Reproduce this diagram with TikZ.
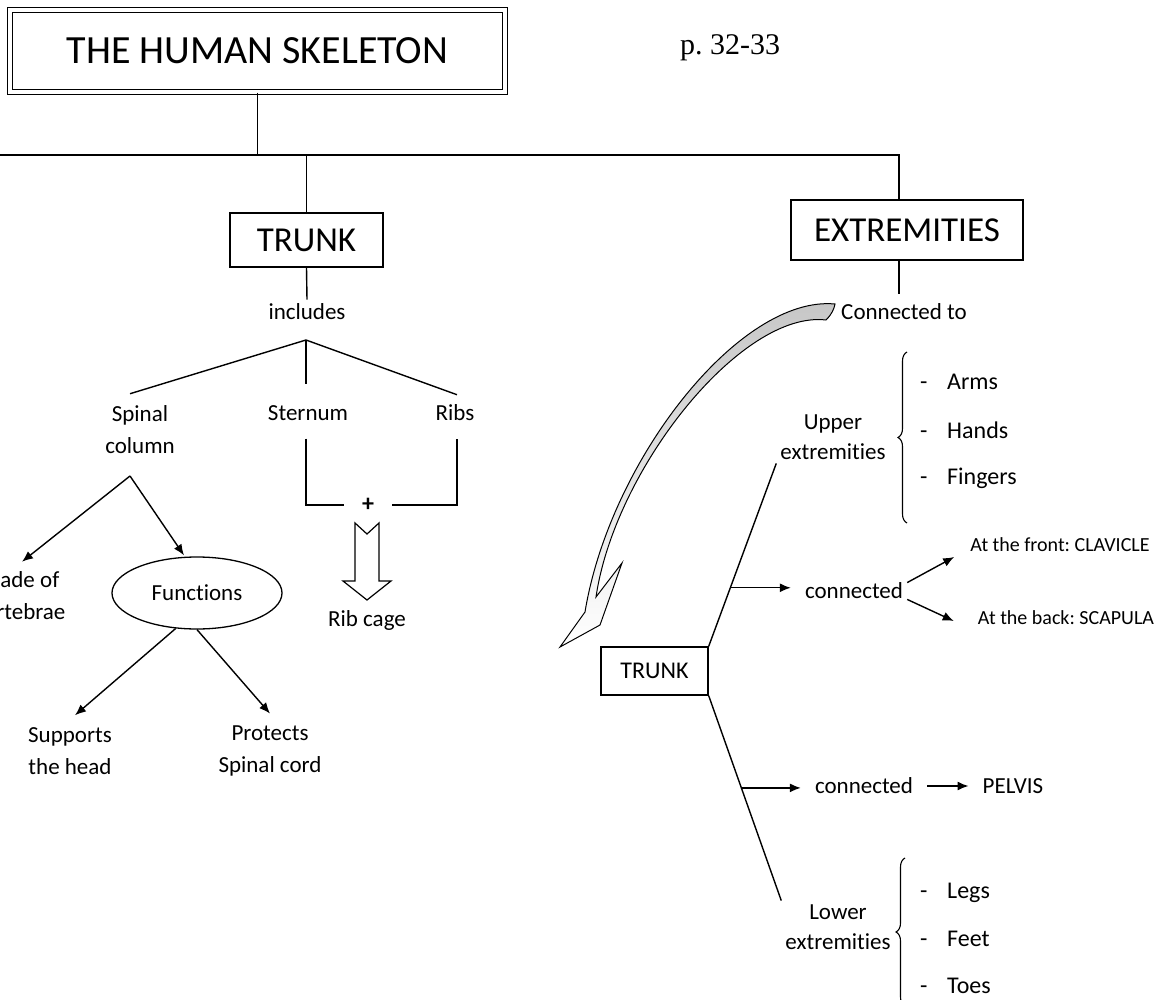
\documentclass[tikz,border=0pt]{standalone}
\usepackage{fontspec}
\setmainfont{Carlito}[Ligatures=NoCommon]
\newfontfamily\timesfont{Liberation Serif}
\frenchspacing
\usetikzlibrary{arrows.meta,calc,decorations.pathreplacing,shapes.geometric}
\tikzset{>={Latex[length=11pt,width=9pt]}}
\tikzset{
    box/.style={rectangle,draw,line width=1.4pt,inner sep=0pt,font=\fontsize{35}{40}\selectfont},
    titlebox/.style={rectangle,draw,double,double distance=3.5pt,line width=1.3pt,inner sep=0pt,minimum width=495pt,minimum height=82pt,font=\fontsize{40}{46}\selectfont},
    txt/.style={rectangle,draw=none,inner sep=4pt,align=center,font=\fontsize{23}{32}\selectfont},
    tighttxt/.style={txt,font=\fontsize{23}{29.5}\selectfont},
    smalltxt/.style={txt,font=\fontsize{20}{24}\selectfont},
    itemtxt/.style={txt,anchor=west,inner sep=0pt,text height=17pt,text depth=5pt,font=\fontsize{24}{28}\selectfont},
    wire/.style={line width=1.4pt},
    directed/.style={wire,arrows={->}},
    bracestyle/.style={line width=1.1pt,decorate,decoration={brace,amplitude=9pt}},
}

\begin{document}
\begin{tikzpicture}[x=1pt,y=-1pt]
		\clip (0,0) rectangle (1175,1000);
		\fill[white] (0,0) rectangle (1175,1000);

		\node[titlebox] (title) at (257.5,51) {THE HUMAN SKELETON};
		\node[txt,font=\timesfont\fontsize{30}{34}\selectfont] (page) at (730,48) {p. 32-33};

		\node[box,minimum width=153pt,minimum height=54pt] (trunk) at (306.5,240) {TRUNK};
		\node[box,minimum width=232pt,minimum height=60pt] (ext) at (907,230) {EXTREMITIES};

		\coordinate (hl) at (0,155);
		\coordinate (hr) at (899,155);
		\draw[wire] (title.south) to (title.south |- hl);
		\draw[wire] (hl) to (hr) to (hr |- ext.north);
		\draw[wire] (trunk.north |- hl) to (trunk.north);

		\node[txt] (incl) at (307,312) {includes};
		\node[txt] (spinal) at (140,430) {Spinal\\column};
		\node[txt] (stern) at (308,413) {Sternum};
		\node[txt] (ribs) at (455,413) {Ribs};
		\node[txt,inner sep=0pt,minimum width=47pt,font=\bfseries\fontsize{24}{28}\selectfont] (plus) at (368,505) {+};
		\node[txt] (ribcage) at (367,620) {Rib cage};

		\draw[wire] (trunk.south) to (incl.north);
		\coordinate (fan) at (306,340);
		\draw[wire] (fan) to ([xshift=-10pt,yshift=8pt]spinal.north);
		\draw[wire] (fan) to ($(stern.north)+(-2,-17)$);
		\draw[wire] (fan) to ([xshift=2pt,yshift=6pt]ribs.north);
		\draw[wire] ([xshift=-2pt,yshift=-14pt]stern.south) |- (plus.west);
		\draw[wire] ([xshift=2pt,yshift=-14pt]ribs.south) |- (plus.east);
		\draw[line width=1.2pt,shift={(367,523)}] (-12,0) -- (0,11) -- (12,0) -- (12,58) -- (24,58) -- (0,77) -- (-24,58) -- (-12,58) -- cycle;

		\node[txt] (made) at (20,596) {Made of\\vertebrae};
		\node[txt,ellipse,draw,line width=1.3pt,minimum width=170pt,minimum height=72pt,inner sep=0pt] (func) at (197,593) {Functions};
		\node[txt] (supp) at (70,751) {Supports\\the head};
		\node[txt] (prot) at (270,751) {Protects\\Spinal cord};

		\coordinate (spbr) at (130,476);
		\draw[directed] (spbr) to ([xshift=2pt,yshift=6pt]made.north);
		\draw[directed] (spbr) to ([xshift=-13pt,yshift=1pt]func.north);
		\draw[directed] (func.239) to ([xshift=5pt,yshift=8pt]supp.north);
		\draw[directed] (func.south) to ([yshift=8pt]prot.north);

		\node[txt] (conn) at (904,312) {Connected to};
		\draw[wire] (ext.south -| hr) to ([yshift=6pt]conn.north -| hr);

		\shade[top color=gray!45,bottom color=white,draw,line width=1pt]
			(835,304) .. controls (740,295) and (610,460) .. (585,612)
			-- (560,647) -- (600,625) -- (622,563) -- (596,597)
			.. controls (615,468) and (742,310) .. (826,320)
			.. controls (832,314) and (834,309) .. cycle;

		\node[box,minimum width=107pt,minimum height=48pt,font=\fontsize{24}{28}\selectfont] (strunk) at (654.5,671) {TRUNK};
		\node[tighttxt] (upx) at (833,437) {Upper\\extremities};
		\node[tighttxt] (lowx) at (838,927) {Lower\\extremities};
		\draw[wire] (strunk.north east) to (upx.south west);
		\draw[wire] (strunk.south east) to (lowx.north west);

		\node[txt] (c1) at (854,591) {connected};
		\node[smalltxt] (front) at (1060,545) {At the front: CLAVICLE};
		\node[smalltxt] (back) at (1066,618) {At the back: SCAPULA};
		\coordinate (ua) at ($(strunk.north east)!0.32!(upx.south west)$);
		\draw[directed,shorten >=10pt] (ua) to (ua -| c1.west);
		\draw[directed] (c1.9) to ($(front.west)+(-12,12)$);
		\draw[directed] (c1.-9) to ($(back.west)+(-20,3)$);

		\node[txt] (c2) at (864,786) {connected};
		\node[txt] (pelv) at (1013,786) {PELVIS};
		\coordinate (la) at ($(strunk.south east)!0.45!(lowx.north west)$);
		\draw[directed,shorten >=10pt] (la) to (la -| c2.west);
		\draw[directed,shorten <=10pt,shorten >=10pt] (c2) to (pelv);

		\draw[bracestyle] (907,523) to (907,352);
		\node[itemtxt] (d1) at (920,383) {-};
		\node[itemtxt] (arms) at (947,383) {Arms};
		\node[itemtxt] (d2) at (920,432) {-};
		\node[itemtxt] (hands) at (947,432) {Hands};
		\node[itemtxt] (d3) at (920,478) {-};
		\node[itemtxt] (fing) at (947,478) {Fingers};

		\draw[bracestyle] (905,1006) to (905,858);
		\node[itemtxt] (d4) at (920,892) {-};
		\node[itemtxt] (legs) at (947,892) {Legs};
		\node[itemtxt] (d5) at (920,940) {-};
		\node[itemtxt] (feet) at (947,940) {Feet};
		\node[itemtxt] (d6) at (920,987) {-};
		\node[itemtxt] (toes) at (947,987) {Toes};
	\end{tikzpicture}
\end{document}
